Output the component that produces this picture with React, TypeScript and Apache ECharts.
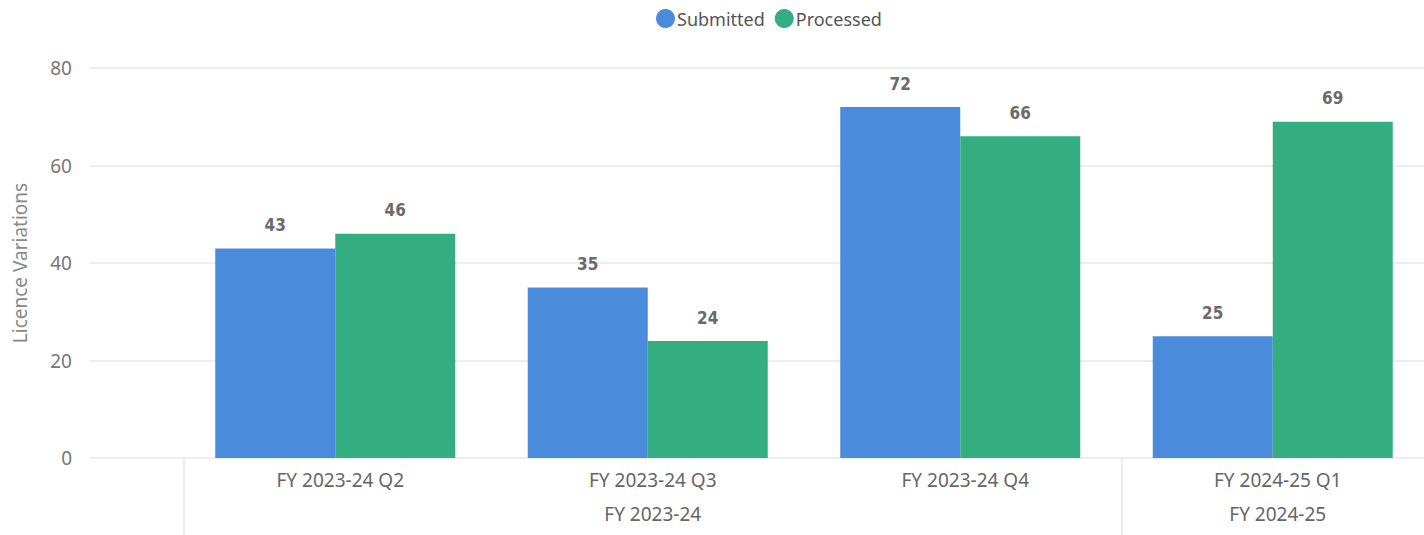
import React, { useEffect, useRef } from "react";
import * as echarts from "echarts";

const quarters = ["FY 2023-24 Q2", "FY 2023-24 Q3", "FY 2023-24 Q4", "FY 2024-25 Q1"];
const fiscalYears = ["", "FY 2023-24", "", "FY 2024-25"];
const submitted = [43, 35, 72, 25];
const processed = [46, 24, 66, 69];
const yTicks = { min: 0, max: 80, interval: 20 };

const BLUE = "#4A8BDB";
const GREEN = "#34AE80";
const FONT = "'Noto Sans', sans-serif";
const NUM_FONT = "'DejaVu Sans Condensed', sans-serif";

export default function App() {
  const ref = useRef<HTMLDivElement>(null);
  useEffect(() => {
    if (!ref.current) return;
    const chart = echarts.init(ref.current, null, { renderer: "svg" });
    const top = 68;
    const height = 390;
    const dataLabel = {
      show: true,
      position: "top",
      distance: 15,
      fontFamily: NUM_FONT,
      fontWeight: "bold",
      fontSize: 17,
      color: "#6a6a6a",
    };
    chart.setOption({
      animation: false,
      legend: {
        top: 4,
        left: 651,
        icon: "circle",
        itemWidth: 19,
        itemHeight: 19,
        itemGap: 10,
        textStyle: { fontFamily: FONT, fontSize: 18, color: "#555", padding: [0, 0, 0, -3] },
        data: ["Submitted", "Processed"],
      },
      grid: [
        { left: 90, right: 36, top, height },
        { left: 179, width: 1250, top, height },
        { left: 184, width: 1250, top, height },
      ],
      xAxis: [
        { gridIndex: 0, type: "category", data: quarters, show: false },
        { gridIndex: 1, type: "category", data: quarters, show: false },
        {
          gridIndex: 2,
          type: "category",
          data: quarters,
          axisLine: { show: false },
          axisTick: {
            show: true,
            length: 78,
            interval: (i: number) => i === 0 || i === 3,
            lineStyle: { color: "#e4e4e4", width: 1.5 },
          },
          axisLabel: { fontFamily: FONT, fontSize: 19, color: "#666", margin: 12 },
        },
        {
          gridIndex: 2,
          type: "category",
          position: "bottom",
          offset: 34,
          data: fiscalYears,
          axisLine: { show: false },
          axisTick: { show: false },
          axisLabel: { fontFamily: FONT, fontSize: 19, color: "#666", margin: 12, interval: 0 },
        },
      ],
      yAxis: [
        {
          gridIndex: 0,
          type: "value",
          ...yTicks,
          name: "Licence Variations",
          nameLocation: "middle",
          nameGap: 61,
          nameTextStyle: { fontFamily: FONT, fontSize: 19, color: "#888" },
          axisLabel: { fontFamily: FONT, fontSize: 19, color: "#777", margin: 18 },
          splitLine: { lineStyle: { color: "#e8e8e8", width: 1.5 } },
          axisLine: { show: false },
          axisTick: { show: false },
        },
        { gridIndex: 1, type: "value", ...yTicks, show: false, splitLine: { show: false } },
        { gridIndex: 2, type: "value", ...yTicks, show: false, splitLine: { show: false } },
      ],
      series: [
        {
          name: "Submitted",
          type: "bar",
          xAxisIndex: 1,
          yAxisIndex: 1,
          data: submitted,
          barWidth: 120,
          barGap: "0%",
          itemStyle: { color: BLUE },
          label: dataLabel,
        },
        {
          name: "Processed",
          type: "bar",
          xAxisIndex: 1,
          yAxisIndex: 1,
          data: processed,
          barWidth: 120,
          barGap: "0%",
          itemStyle: { color: GREEN },
          label: dataLabel,
        },
      ],
    });
    return () => chart.dispose();
  }, []);
  return (
    <div style={{ position: "fixed", left: 0, top: 0, width: 1424, height: 535, overflow: "hidden", background: "#fff" }}>
      <div ref={ref} style={{ width: 1460, height: 535 }} />
    </div>
  );
}
